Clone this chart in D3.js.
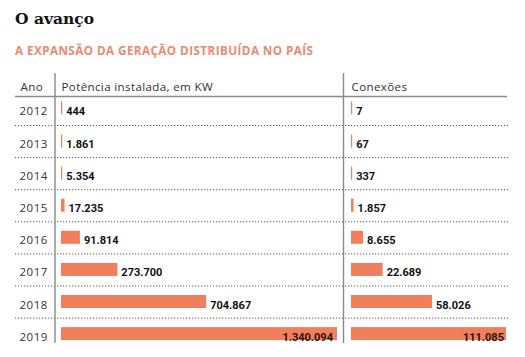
<!DOCTYPE html>
<html><head><meta charset="utf-8">
<script src="https://cdn.jsdelivr.net/npm/d3@7"></script>
<style>
html,body{margin:0;padding:0;background:#fff;}
svg{display:block;}
</style></head>
<body>
<script>
const title = "O avanço";
const subtitle = "A EXPANSÃO DA GERAÇÃO DISTRIBUÍDA NO PAÍS";
const headers = ["Ano", "Potência instalada, em KW", "Conexões"];
const years = ["2012","2013","2014","2015","2016","2017","2018","2019"];
const potencia = [444, 1861, 5354, 17235, 91814, 273700, 704867, 1340094];
const conexoes = [7, 67, 337, 1857, 8655, 22689, 58026, 111085];

const W = 525, H = 357;
const svg = d3.select("body").append("svg").attr("width", W).attr("height", H);

const fmt = d3.formatLocale({decimal: ",", thousands: ".", grouping: [3], currency: ["R$",""]}).format(",d");

svg.append("text").attr("x", 15).attr("y", 24)
  .attr("font-family", "DejaVu Serif").attr("font-weight", "bold").attr("font-size", 15.5)
  .attr("fill", "#111").text(title);
svg.append("text").attr("x", 15).attr("y", 55)
  .attr("font-family", "Open Sans").attr("font-weight", "bold").attr("font-size", 11.7)
  .attr("textLength", 298).attr("lengthAdjust", "spacing")
  .attr("fill", "#ec8a70").text(subtitle);

const left = 15, right = 507;
const headerY = 96.5;
const rowTop = 125.5, rowStep = 32.1;

const y = d3.scaleBand().domain(years).range([rowTop - rowStep, rowTop + rowStep * 7]).paddingInner(0).paddingOuter(0);

const xP = d3.scaleLinear().domain([0, d3.max(potencia)]).range([61, 337]);
const xC = d3.scaleLinear().domain([0, d3.max(conexoes)]).range([351, 506]);

const hx = [20.5, 61.5, 351.5];
svg.selectAll("text.hdr").data(headers).join("text").attr("class","hdr")
  .attr("x", (d,i) => hx[i]).attr("y", 90.5)
  .attr("font-family", "Open Sans").attr("font-size", 11.6).attr("letter-spacing", 0.35)
  .attr("fill", "#333").text(d => d);

svg.append("line").attr("x1", left).attr("x2", right).attr("y1", headerY).attr("y2", headerY)
  .attr("stroke", "#8a8a8a").attr("stroke-width", 1.6);

svg.selectAll("line.sep").data(years.slice(1)).join("line").attr("class","sep")
  .attr("x1", left).attr("x2", right + 1)
  .attr("y1", d => y(d)).attr("y2", d => y(d))
  .attr("stroke", "#555").attr("stroke-width", 1).attr("stroke-dasharray", "1.2,1.8");

[55, 343.5].forEach(vx => {
  svg.append("line").attr("x1", vx).attr("x2", vx).attr("y1", 73).attr("y2", 343)
    .attr("stroke", "#8a8a8a").attr("stroke-width", 1.4);
});

const barColor = "#f07f5e";
const barH = 13;
const barTop = d => y(d) + (d === years[0] ? 8 : 9);

function drawBars(vals, x, pad) {
  const g = svg.append("g");
  const data = years.map((yr, i) => ({yr, v: vals[i], last: i === years.length - 1}));
  g.selectAll("rect").data(data).join("rect")
    .attr("x", x.range()[0]).attr("y", d => barTop(d.yr))
    .attr("width", d => Math.max(1.2, x(d.v) - x.range()[0])).attr("height", barH)
    .attr("fill", barColor);
  g.selectAll("text").data(data).join("text")
    .attr("x", d => d.last ? x(d.v) - pad : Math.max(x(d.v), x.range()[0] + 1.2) + 4)
    .attr("y", d => barTop(d.yr) + barH + 0.5)
    .attr("text-anchor", d => d.last ? "end" : "start")
    .attr("font-family", "Roboto").attr("font-weight", "bold").attr("font-size", 11)
    .attr("fill", d => d.last ? "#2a1610" : "#111")
    .text(d => fmt(d.v));
}
drawBars(potencia, xP, 4);
drawBars(conexoes, xC, 2);

svg.selectAll("text.yr").data(years).join("text").attr("class","yr")
  .attr("x", 19.5).attr("y", d => barTop(d) + barH + 0.5)
  .attr("font-family", "Open Sans").attr("font-size", 11.5).attr("letter-spacing", 0.5)
  .attr("fill", "#333").text(d => d);
</script>
</body></html>
